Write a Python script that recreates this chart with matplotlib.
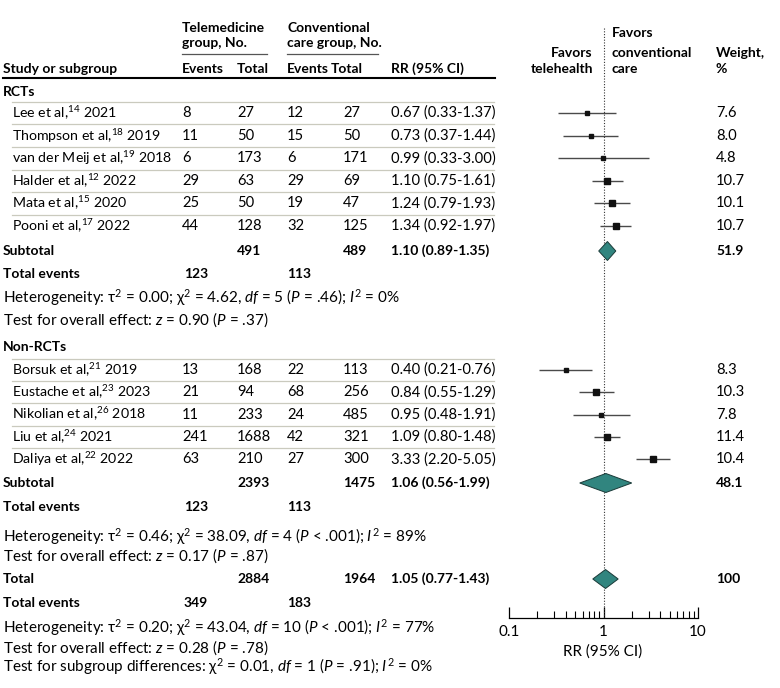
import matplotlib
matplotlib.use("Agg")
import matplotlib.pyplot as plt
import numpy as np

plt.rcParams['font.family'] = ['Lato', 'DejaVu Sans']
plt.rcParams['mathtext.fontset'] = 'custom'
plt.rcParams['mathtext.rm'] = 'Lato'
plt.rcParams['mathtext.it'] = 'Lato:italic'
plt.rcParams['mathtext.bf'] = 'Lato:bold'

FS = 10.6    # regular table text
FSN = 10.2   # study names
FSH = 11     # heterogeneity lines
FSB = 10     # bold text
TEAL = "#31857f"
SEP = "#cacabe"

# RCTs
rct_names = ["Lee et al,", "Thompson et al,", "van der Meij et al,", "Halder et al,", "Mata et al,", "Pooni et al,"]
rct_refs = ["14", "18", "19", "12", "15", "17"]
rct_years = ["2021", "2019", "2018", "2022", "2020", "2022"]
rct_ev_tele = [8, 11, 6, 29, 25, 44]
rct_n_tele = [27, 50, 173, 63, 50, 128]
rct_ev_conv = [12, 15, 6, 29, 19, 32]
rct_n_conv = [27, 50, 171, 69, 47, 125]
rct_rr = [0.67, 0.73, 0.99, 1.10, 1.24, 1.34]
rct_lo = [0.33, 0.37, 0.33, 0.75, 0.79, 0.92]
rct_hi = [1.37, 1.44, 3.00, 1.61, 1.93, 1.97]
rct_w = [7.6, 8.0, 4.8, 10.7, 10.1, 10.7]

# non-RCTs
nr_names = ["Borsuk et al,", "Eustache et al,", "Nikolian et al,", "Liu et al,", "Daliya et al,"]
nr_refs = ["21", "23", "26", "24", "22"]
nr_years = ["2019", "2023", "2018", "2021", "2022"]
nr_ev_tele = [13, 21, 11, 241, 63]
nr_n_tele = [168, 94, 233, 1688, 210]
nr_ev_conv = [22, 68, 24, 42, 27]
nr_n_conv = [113, 256, 485, 321, 300]
nr_rr = [0.40, 0.84, 0.95, 1.09, 3.33]
nr_lo = [0.21, 0.55, 0.48, 0.80, 2.20]
nr_hi = [0.76, 1.29, 1.91, 1.48, 5.05]
nr_w = [8.3, 10.3, 7.8, 11.4, 10.4]

# pooled: RCT subtotal, non-RCT subtotal, overall
pool_n_tele = [491, 2393, 2884]
pool_n_conv = [489, 1475, 1964]
pool_ev_tele = [123, 123, 349]
pool_ev_conv = [113, 113, 183]
pool_rr = [1.10, 1.06, 1.05]
pool_lo = [0.89, 0.56, 0.77]
pool_hi = [1.35, 1.99, 1.43]
pool_w = ["51.9", "48.1", "100"]

het_lines = [
    ["Heterogeneity: τ$^2$ = 0.00; χ$^2$ = 4.62, $df$ = 5 ($P$ = .46); $I^2$ = 0%",
     "Test for overall effect: $z$ = 0.90 ($P$ = .37)"],
    ["Heterogeneity: τ$^2$ = 0.46; χ$^2$ = 38.09, $df$ = 4 ($P$ < .001); $I^2$ = 89%",
     "Test for overall effect: $z$ = 0.17 ($P$ = .87)"],
    ["Heterogeneity: τ$^2$ = 0.20; χ$^2$ = 43.04, $df$ = 10 ($P$ < .001); $I^2$ = 77%",
     "Test for overall effect: $z$ = 0.28 ($P$ = .78)",
     "Test for subgroup differences: χ$^2$ = 0.01, $df$ = 1 ($P$ = .91); $I^2$ = 0%"],
]

W, H = 780, 688
fig = plt.figure(figsize=(W / 100, H / 100), dpi=100)
tx = fig.add_axes([0, 0, 1, 1])
tx.set_xlim(0, W)
tx.set_ylim(H, 0)
tx.axis("off")

# forest panel, y in pixel units
AX_L, AX_R, AX_B = 509, 698, 618
fx = fig.add_axes([AX_L / W, (H - AX_B) / H, (AX_R - AX_L) / W, AX_B / H])
fx.set_xscale("log")
fx.set_xlim(0.1, 10)
fx.set_ylim(AX_B, 0)
fx.patch.set_alpha(0)
for s in ["top", "left", "right"]:
    fx.spines[s].set_visible(False)
fx.spines["bottom"].set_linewidth(0.9)
fx.set_yticks([])
fx.set_xticks([0.1, 1, 10])
fx.set_xticklabels(["0.1", "1", "10"], fontsize=FSH)
fx.tick_params(axis="x", which="major", direction="in", length=8, width=0.9, pad=5)
fx.tick_params(axis="x", which="minor", direction="in", length=5, width=0.8)
fx.axvline(1, ymin=0, ymax=1 - 28 / AX_B, color="#333333", lw=0.8, ls=(0, (1, 1.5)))

# column x positions
X_NAME, X_STUDY = 3, 12
X_EVT, X_NT, X_EVC, X_NC, X_RR, X_WT = 182, 237, 287, 343, 391, 716


def put(x, y, s, bold=False, ha="left", size=None):
    if size is None:
        size = FSB if bold else FS
    tx.text(x, y, s, fontsize=size, fontweight="bold" if bold else "normal",
            ha=ha, va="center")


# header
put(X_EVT, 28, "Telemedicine", True)
put(X_EVT, 43, "group, No.", True)
put(X_EVC, 28, "Conventional", True)
put(X_EVC, 43, "care group, No.", True)
tx.plot([182, 267], [54, 54], color="#555555", lw=0.9)
tx.plot([287, 378], [54, 54], color="#555555", lw=0.9)
put(X_NAME, 69, "Study or subgroup", True)
put(X_EVT, 69, "Events", True)
put(X_NT, 69, "Total", True)
put(X_EVC, 69, "Events", True)
put(331, 69, "Total", True)
put(X_RR, 69, "RR (95% CI)", True)
tx.plot([3, 495], [78, 78], color="black", lw=1.5)
put(593, 53, "Favors", True, "right")
put(593, 69, "telehealth", True, "right")
put(612, 33, "Favors", True)
put(612, 53, "conventional", True)
put(612, 69, "care", True)
put(X_WT, 53, "Weight,", True)
put(X_WT, 69, "%", True)


def study_block(y0, names, refs, years, evt, nt, evc, nc, rr, lo, hi, w, step):
    ys = [y0 + i * step for i in range(len(names))]
    for i, y in enumerate(ys):
        tx.plot([X_STUDY, 494], [y - 11.3, y - 11.3], color=SEP, lw=0.9)
        put(X_STUDY, y, f"{names[i]}$^{{{refs[i]}}}$ {years[i]}", size=FSN)
        put(X_EVT, y, str(evt[i]))
        put(X_NT, y, str(nt[i]))
        put(X_EVC, y, str(evc[i]))
        put(X_NC, y, str(nc[i]))
        put(X_RR, y, f"{rr[i]:.2f} ({lo[i]:.2f}-{hi[i]:.2f})")
        put(X_WT, y, f"{w[i]:.1f}")
        fx.plot([lo[i], hi[i]], [y, y], color="#4a4a4a", lw=1.0, solid_capstyle="butt")
        fx.plot(rr[i], y, marker="s", ms=np.sqrt(w[i]) * 1.2, color="#111111", mec="#111111")


def pooled(k, y, label):
    put(X_NAME, y, label, True)
    put(X_NT, y, str(pool_n_tele[k]), True)
    put(X_NC, y, str(pool_n_conv[k]), True)
    put(X_RR, y, f"{pool_rr[k]:.2f} ({pool_lo[k]:.2f}-{pool_hi[k]:.2f})", True)
    put(X_WT, y, pool_w[k], True)
    dy = 9.5
    fx.fill([pool_lo[k], pool_rr[k], pool_hi[k], pool_rr[k]],
            [y, y - dy, y, y + dy], facecolor=TEAL, edgecolor="#1a3a38", lw=0.7, zorder=3)


def events(k, y):
    put(X_NAME, y, "Total events", True)
    put(X_EVT + 2, y, str(pool_ev_tele[k]), True)
    put(X_EVC, y, str(pool_ev_conv[k]), True)


# RCTs
put(X_NAME, 92, "RCTs", True)
study_block(113, rct_names, rct_refs, rct_years, rct_ev_tele, rct_n_tele,
            rct_ev_conv, rct_n_conv, rct_rr, rct_lo, rct_hi, rct_w, 22.6)
pooled(0, 251, "Subtotal")
events(0, 274)
put(X_NAME, 298, het_lines[0][0], size=FSH)
put(X_NAME, 320, het_lines[0][1], size=FSH)

# non-RCTs
put(X_NAME, 347, "Non-RCTs", True)
study_block(370, nr_names, nr_refs, nr_years, nr_ev_tele, nr_n_tele,
            nr_ev_conv, nr_n_conv, nr_rr, nr_lo, nr_hi, nr_w, 22.3)
pooled(1, 483, "Subtotal")
events(1, 507)
put(X_NAME, 537, het_lines[1][0], size=FSH)
put(X_NAME, 556, het_lines[1][1], size=FSH)

# overall
pooled(2, 579, "Total")
events(2, 603)
put(X_NAME, 628, het_lines[2][0], size=FSH)
put(X_NAME, 648, het_lines[2][1], size=FSH)
put(X_NAME, 667, het_lines[2][2], size=FSH)

put(603, 652, "RR (95% CI)", False, "center", size=FSH)

fig.savefig("out.png", dpi=100)
